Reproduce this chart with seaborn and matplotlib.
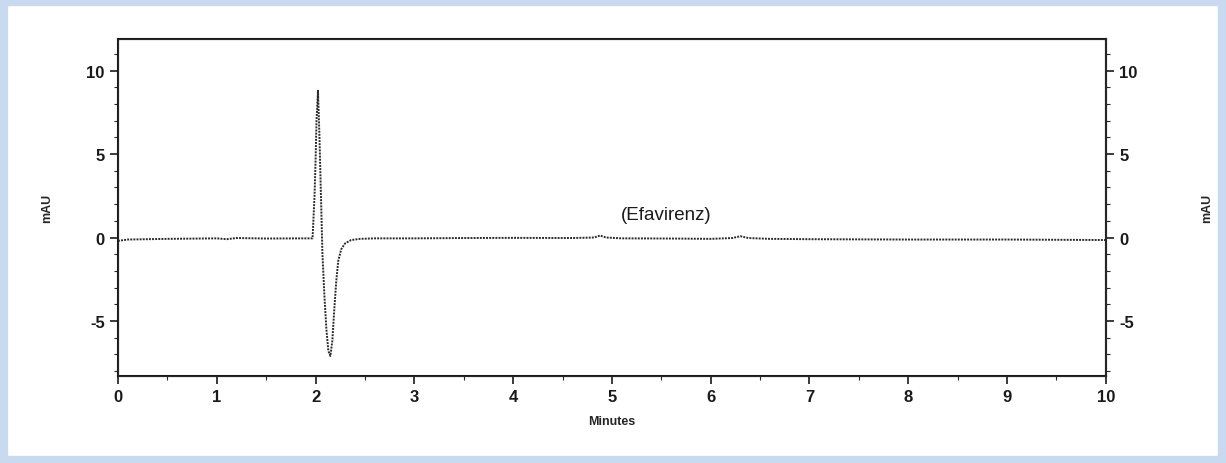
import matplotlib as mpl
mpl.use('Agg')
import pandas as pnd
import seaborn as sns
from matplotlib import pyplot as plt
from matplotlib.ticker import MultipleLocator
from matplotlib.patches import Rectangle

# trace (minutes, mAU)
minutes = [0.0, 0.1, 0.5, 1.0, 1.1, 1.2, 1.5, 1.9, 1.97, 1.99, 2.00, 2.01,
           2.025, 2.04, 2.055, 2.07, 2.09, 2.11, 2.13, 2.15, 2.17, 2.19,
           2.21, 2.23, 2.26, 2.30, 2.36, 2.45, 2.6, 3.0, 3.5, 4.0, 4.6,
           4.82, 4.88, 4.94, 5.1, 5.6, 6.0, 6.22, 6.3, 6.38, 6.6, 7.0,
           8.0, 9.0, 10.0]
mau = [-0.2, -0.12, -0.08, -0.05, -0.1, -0.03, -0.06, -0.05, -0.05, 2.5,
       4.5, 7.0, 8.8, 6.0, 2.5, -1.0, -3.5, -5.5, -6.8, -7.1, -6.2, -4.3,
       -2.6, -1.4, -0.7, -0.35, -0.15, -0.08, -0.05, -0.05, -0.03, -0.02,
       -0.03, 0.0, 0.12, 0.0, -0.05, -0.06, -0.08, -0.03, 0.08, -0.03,
       -0.08, -0.1, -0.12, -0.12, -0.15]

peak_label = "(Efavirenz)"
yticks = [-5, 0, 5, 10]
xticks = list(range(0, 11))

df = pnd.DataFrame({'Minutes': minutes, 'mAU': mau})

sns.set_style('ticks')
plt.rcParams['font.family'] = ['Liberation Sans', 'DejaVu Sans']
plt.rcParams['axes.unicode_minus'] = False

fig = plt.figure(figsize=(12.26, 4.64), dpi=100)
fig.patch.set_facecolor('white')
fig.patches.append(Rectangle((0.003, 0.006), 0.994, 0.988, transform=fig.transFigure,
                             fill=False, edgecolor='#c9d9ef', linewidth=6))
ax = fig.add_axes([0.0962, 0.1875, 0.8058, 0.7263])

sns.lineplot(data=df, x='Minutes', y='mAU', ax=ax, color='#2a2a2a',
             linestyle=(0, (1, 0.6)), linewidth=1.4)

ax.set_xlim(0, 10)
ax.set_ylim(-8.3, 11.9)
ax.set_xticks(xticks)
ax.set_yticks(yticks)
ax.xaxis.set_minor_locator(MultipleLocator(0.5))
ax.yaxis.set_minor_locator(MultipleLocator(1))
ax.tick_params(axis='both', which='major', length=6, width=1.2, labelsize=12, colors='#1a1a1a')
ax.tick_params(axis='both', which='minor', length=3, width=0.8)
for lab in ax.get_xticklabels() + ax.get_yticklabels():
    lab.set_fontweight('bold')
ax.set_xlabel('Minutes', fontsize=9, fontweight='bold', labelpad=8)
ax.set_ylabel('mAU', fontsize=9, fontweight='bold', labelpad=24)
for side in ['top', 'bottom', 'left', 'right']:
    ax.spines[side].set_visible(True)
    ax.spines[side].set_linewidth(1.5)
    ax.spines[side].set_color('#1a1a1a')

ax2 = ax.twinx()
ax2.set_ylim(ax.get_ylim())
ax2.set_yticks(yticks)
ax2.yaxis.set_minor_locator(MultipleLocator(1))
ax2.tick_params(axis='y', which='major', length=6, width=1.2, labelsize=12, colors='#1a1a1a')
ax2.tick_params(axis='y', which='minor', length=3, width=0.8)
for lab in ax2.get_yticklabels():
    lab.set_fontweight('bold')
ax2.set_ylabel('mAU', fontsize=9, fontweight='bold', labelpad=46, rotation=90)
ax2.spines['right'].set_linewidth(1.5)

ax.text(5.55, 1.4, peak_label, fontsize=13.5, ha='center', va='center', color='#1a1a1a')

plt.savefig('out.png', dpi=100)
